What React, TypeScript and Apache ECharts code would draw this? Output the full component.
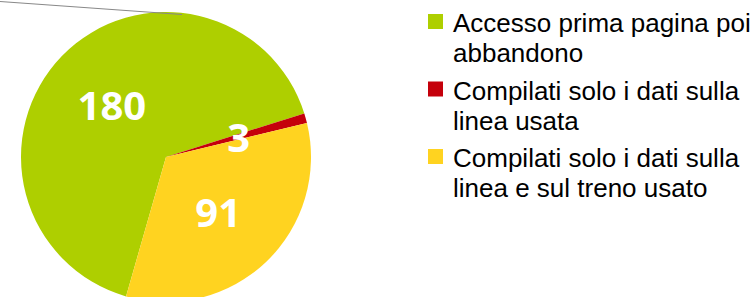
import React, { useEffect, useRef } from "react";
import * as echarts from "echarts";

const categories = [
  "Accesso prima pagina poi\nabbandono",
  "Compilati solo i dati sulla\nlinea usata",
  "Compilati solo i dati sulla\nlinea e sul treno usato",
];
const values = [180, 3, 91];
const colors = ["#aecf00", "#c5000b", "#ffd320"];

export default function App() {
  const ref = useRef<HTMLDivElement>(null);
  useEffect(() => {
    if (!ref.current) return;
    const chart = echarts.init(ref.current, null, { renderer: "svg" });
    const legendTop = 8;
    const legendStep = 67.5;
    const legendGraphics: any[] = [];
    categories.forEach((name, i) => {
      const y = legendTop + i * legendStep;
      legendGraphics.push({
        type: "rect",
        left: 428,
        top: y + 6,
        shape: { width: 15, height: 15 },
        style: { fill: colors[i] },
      });
      legendGraphics.push({
        type: "text",
        left: 453,
        top: y,
        style: {
          text: name,
          fill: "#000",
          font: '26px "Liberation Sans", Arial, sans-serif',
          lineHeight: 30,
        },
      });
    });
    chart.setOption({
      animation: false,
      backgroundColor: "#fff",
      series: [
        {
          type: "pie",
          center: [166, 157],
          radius: [0, 145],
          startAngle: 254,
          clockwise: true,
          avoidLabelOverlap: false,
          itemStyle: { borderWidth: 0 },
          label: {
            show: true,
            position: "inside",
            formatter: "{c}",
            color: "#fff",
            fontFamily: '"Open Sans", sans-serif',
            fontWeight: "bold",
            fontSize: 40,
          },
          labelLine: { show: false },
          emphasis: { disabled: true },
          data: categories.map((name, i) => ({
            name,
            value: values[i],
            itemStyle: { color: colors[i] },
          })),
        },
      ],
      graphic: [
        {
          type: "line",
          shape: { x1: 0, y1: 1.5, x2: 182, y2: 14.5 },
          style: { stroke: "#888", lineWidth: 1 },
          z: 10,
        },
        ...legendGraphics,
      ],
    });
    return () => chart.dispose();
  }, []);
  return (
    <div
      ref={ref}
      style={{ position: "absolute", left: 0, top: 0, width: 751, height: 297 }}
    />
  );
}
